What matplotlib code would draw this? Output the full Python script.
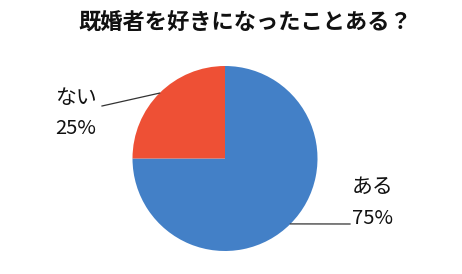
import numpy as np
import matplotlib
matplotlib.use("Agg")
import matplotlib.pyplot as plt

plt.rcParams['font.family'] = ['Noto Sans CJK JP', 'DejaVu Sans']

# data
labels = ['ある', 'ない']
values = [75, 25]
colors = ['#4380c7', '#ee5035']
title = '既婚者を好きになったことある？'

W, H = 462, 274
fig = plt.figure(figsize=(W / 100, H / 100), dpi=100)
ax = fig.add_axes([0, 0, 1, 1])

cx, cy, r = 225, H - 158.5, 92.5
wedges, _ = ax.pie(values, colors=colors, startangle=90, counterclock=False,
                   center=(cx, cy), radius=r, frame=True,
                   wedgeprops=dict(linewidth=0))
ax.set_xlim(0, W)
ax.set_ylim(0, H)
ax.set_aspect('equal')
ax.axis('off')

# label positions (pixel layout, y from top) and leader line ends
label_pos = {'ある': (352, 187, 350, 224), 'ない': (55, 98, 102, 106)}

for w, lab, v in zip(wedges, labels, values):
    mid = np.deg2rad((w.theta1 + w.theta2) / 2)
    ex, ey = cx + r * np.cos(mid), cy + r * np.sin(mid)
    tx, ty, lx, ly = label_pos[lab]
    ax.plot([ex, lx], [ey, H - ly], color='#333333', lw=0.9)
    ax.text(tx, H - ty, lab, fontsize=15, ha='left', va='center', color='#111111')
    ax.text(tx, H - ty - 31, f'{v}%', fontsize=14.5, ha='left', va='center',
            color='#111111')

ax.text(W / 2 + 14, H - 23, title, fontsize=16, fontweight='bold',
        ha='center', va='center', color='#111111')

fig.savefig('out.png', dpi=100)
